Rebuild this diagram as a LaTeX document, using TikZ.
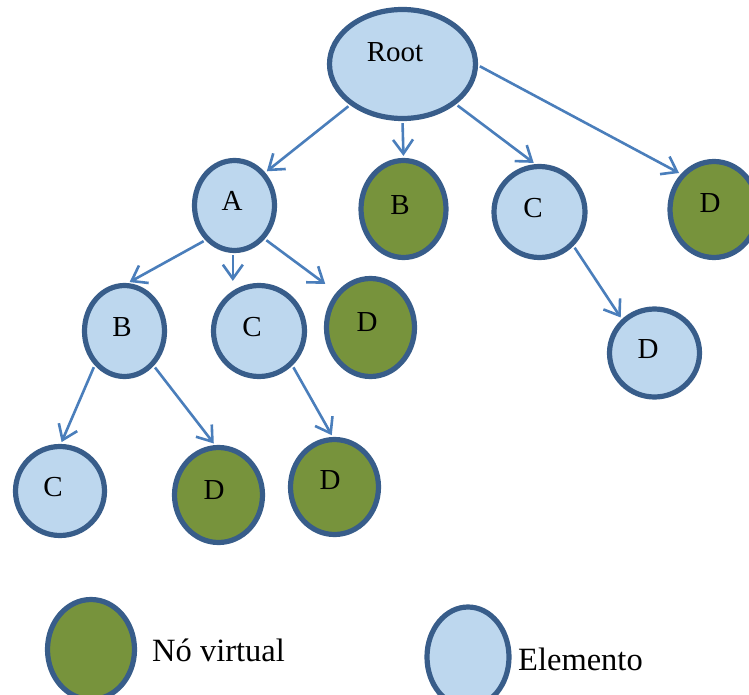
\documentclass[tikz,border=0pt]{standalone}
\usepackage{fontspec}
\setmainfont{Liberation Serif}
\usetikzlibrary{shapes.geometric, arrows.meta}

\definecolor{borderblue}{HTML}{385D8A}
\definecolor{elemfill}{HTML}{BDD7EE}
\definecolor{virtfill}{HTML}{77933C}
\definecolor{linkblue}{HTML}{4A7EBB}

\tikzset{
  elem/.style={ellipse, draw=borderblue, line width=5.2pt, fill=elemfill, inner sep=0pt},
  virt/.style={elem, fill=virtfill},
  lbl/.style={inner sep=0pt, font=\fontsize{29}{31}\selectfont},
  legendtext/.style={inner sep=0pt, anchor=base west, font=\fontsize{32.5}{34}\selectfont},
  link/.style={draw=linkblue, line width=2.6pt, -{Straight Barb[length=14pt,width=20pt]}, shorten >=2pt, shorten <=2pt}
}

\begin{document}
\begin{tikzpicture}[x=1pt, y=-1pt]
\useasboundingbox (0,0) rectangle (749,695);
\clip (0,0) rectangle (749,695);

% tree nodes
\node[elem, minimum width=146pt, minimum height=109pt, label={[lbl, xshift=-7.5pt, yshift=12pt]center:Root}] (root) at (402.5,64) {};
\node[elem, minimum width=80pt, minimum height=90pt, label={[lbl, xshift=-2.5pt, yshift=4.5pt]center:A}] (a) at (234.5,205.5) {};
\node[virt, minimum width=85pt, minimum height=97pt, label={[lbl, xshift=-3.5pt, yshift=4pt]center:B}] (b1) at (403.5,209) {};
\node[elem, minimum width=91pt, minimum height=91pt, label={[lbl, xshift=-6.5pt, yshift=4pt]center:C}] (c1) at (539.5,212) {};
\node[virt, minimum width=88pt, minimum height=96pt, label={[lbl, xshift=-4pt, yshift=6.5pt]center:D}] (d1) at (714,209.5) {};
\node[elem, minimum width=80pt, minimum height=91pt, label={[lbl, xshift=-2.5pt, yshift=4pt]center:B}] (b2) at (124.5,331) {};
\node[elem, minimum width=91pt, minimum height=91pt, label={[lbl, xshift=-7pt, yshift=4pt]center:C}] (c2) at (259,331) {};
\node[virt, minimum width=88pt, minimum height=98pt, label={[lbl, xshift=-3.5pt, yshift=5.5pt]center:D}] (d2) at (370.5,327.5) {};
\node[elem, minimum width=90pt, minimum height=88pt, label={[lbl, xshift=-6.5pt, yshift=4pt]center:D}] (d3) at (654.5,353) {};
\node[elem, minimum width=89pt, minimum height=89pt, label={[lbl, xshift=-7pt, yshift=4pt]center:C}] (c3) at (60,491) {};
\node[virt, minimum width=88pt, minimum height=95pt, label={[lbl, xshift=-4.5pt, yshift=5pt]center:D}] (d4) at (218.5,495) {};
\node[virt, minimum width=88pt, minimum height=95pt, label={[lbl, xshift=-4.5pt, yshift=7pt]center:D}] (d5) at (334.5,487) {};

% links
\draw[link] (root.-142) -- (a.47);
\draw[link] (root.-90) -- (b1.north);
\draw[link] (root.-37.5) -- (c1.95.5);
\draw[link] (root.-1.5) -- (d1.133);
\draw[link] (a.-130.5) -- (b2.86);
\draw[link] (a.-92) -- (a.-92 |- c2.north);
\draw[link, shorten >=14pt] (a.-48.5) -- (d2.134);
\draw[link] (c1.-45.5) -- (d3.134.6);
\draw[link] (b2.-131) -- (c3.89);
\draw[link] (b2.-50) -- (d4.94);
\draw[link] (c2.-46) -- (d5.92);

% legend
\node[virt, minimum width=87pt, minimum height=100pt] (legvirt) at (91,649.5) {};
\node[legendtext] (legvirttext) at (152,661) {Nó virtual};
\node[elem, minimum width=82pt, minimum height=100pt] (legelem) at (468,657) {};
\node[legendtext] (legelemtext) at (518,670) {Elemento};
\end{tikzpicture}
\end{document}
